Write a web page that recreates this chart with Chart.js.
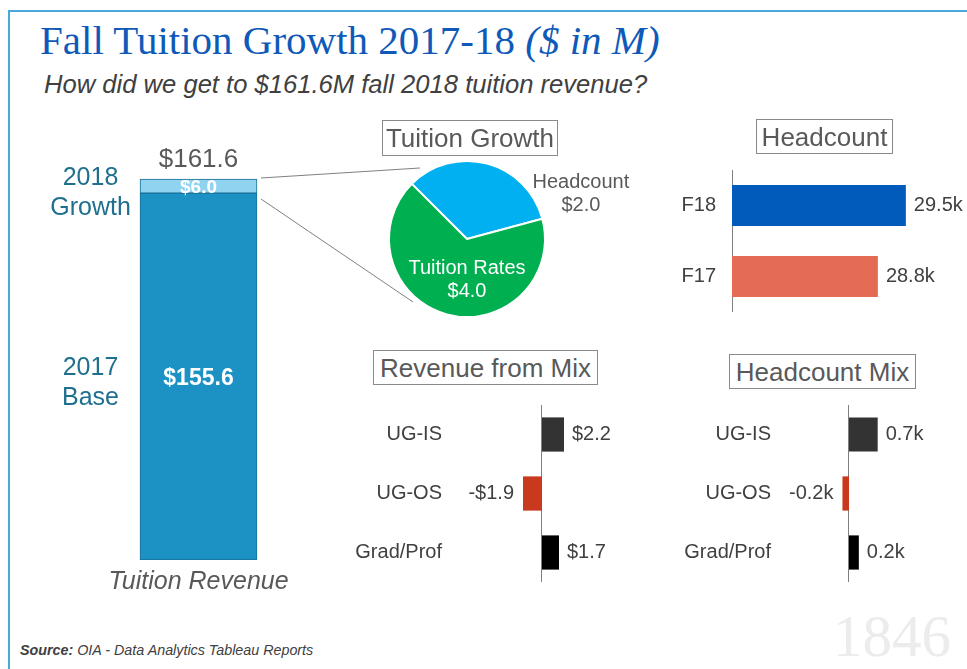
<!DOCTYPE html>
<html>
<head>
<meta charset="utf-8">
<title>Fall Tuition Growth 2017-18</title>
<script src="https://cdn.jsdelivr.net/npm/chart.js"></script>
<style>
  body { margin: 0; background: #fff; font-family: 'Liberation Sans', Arial, sans-serif; }
  #slide { position: relative; width: 967px; height: 669px; overflow: hidden; background: #fff; }
  .abs { position: absolute; }
  .box { position: absolute; box-sizing: border-box; border: 1px solid #8a8a8a; color: #595959;
         font-size: 26px; line-height: 1; display: flex; align-items: center; justify-content: center; }
  canvas { position: absolute; }
</style>
</head>
<body>
<div id="slide">
  <!-- slide frame + watermark -->
  <div class="abs" style="left:8px;top:10px;right:-4px;bottom:-4px;border-top:2px solid #4aa8d8;border-left:2px solid #4aa8d8;"></div>
  <div class="abs" style="left:833px;top:607px;font-family:'Liberation Serif',serif;font-size:59px;line-height:1;color:#ececec;">1846</div>

  <div class="abs" style="left:40px;top:20px;font-family:'Liberation Serif',serif;font-size:41px;line-height:1;color:#0f5ab9;white-space:nowrap;">Fall Tuition Growth 2017-18 <i>($ in M)</i></div>
  <div class="abs" style="left:44px;top:72px;font-size:25.6px;line-height:1;font-style:italic;color:#404040;white-space:nowrap;">How did we get to $161.6M fall 2018 tuition revenue?</div>
  <div class="abs" style="left:20px;top:643px;font-size:14.3px;line-height:1;font-style:italic;color:#404040;white-space:nowrap;"><b>Source:</b> OIA - Data Analytics Tableau Reports</div>

  <!-- connector from the growth segment to the pie -->
  <svg class="abs" style="left:0;top:0" width="967" height="669">
    <line x1="261" y1="178" x2="420" y2="168" stroke="#808080" stroke-width="1"/>
    <line x1="261" y1="199" x2="413" y2="302" stroke="#808080" stroke-width="1"/>
  </svg>

  <canvas id="revenueChart" width="320" height="470" style="left:20px;top:130px;"></canvas>
  <canvas id="growthChart" width="300" height="200" style="left:367px;top:139px;"></canvas>
  <canvas id="headcountChart" width="327" height="142" style="left:640px;top:170px;"></canvas>
  <canvas id="revMixChart" width="300" height="177" style="left:340px;top:405px;"></canvas>
  <canvas id="hcMixChart" width="327" height="177" style="left:640px;top:405px;"></canvas>

  <div class="box" style="left:382px;top:120px;width:176px;height:36px;">Tuition Growth</div>
  <div class="box" style="left:756px;top:119px;width:137px;height:35px;">Headcount</div>
  <div class="box" style="left:373px;top:350px;width:225px;height:35px;">Revenue from Mix</div>
  <div class="box" style="left:729px;top:354px;width:187px;height:35px;">Headcount Mix</div>
</div>

<script>
// Tuition revenue stack ($M)
const revenueParts = ['2017 Base', '2018 Growth'];
const revenueSideLabels = [['2017', 'Base'], ['2018', 'Growth']];
const revenueValues = [155.6, 6.0];
const revenueColors = ['#1b91c4', '#8fd3f1'];

// Tuition growth split ($M)
const growthLabels = ['Headcount', 'Tuition Rates'];
const growthValues = [2.0, 4.0];
const growthColors = ['#00b0f0', '#00b050'];

// Headcount (thousands)
const headcountLabels = ['F18', 'F17'];
const headcountValues = [29.5, 28.8];
const headcountColors = ['#005bbb', '#e46c55'];

// Mix (revenue $M, headcount k)
const mixLabels = ['UG-IS', 'UG-OS', 'Grad/Prof'];
const revMixValues = [2.2, -1.9, 1.7];
const hcMixValues = [0.7, -0.16, 0.24];
const mixColors = ['#333333', '#c9391d', '#000000'];

const FONT = "'Liberation Sans', Arial, sans-serif";
Chart.defaults.font.family = FONT;
Chart.defaults.animation = false;
Chart.defaults.responsive = false;
Chart.defaults.plugins.legend.display = false;
Chart.defaults.plugins.tooltip.enabled = false;

// labels for the stacked revenue bar
const revenueLabelPlugin = {
    id: 'revenueLabels',
    afterDatasetsDraw(chart) {
        const ctx = chart.ctx;
        let topY = Infinity;
        let bottomY = 0;
        let cx = 0;
        ctx.save();
        ctx.textAlign = 'center';
        ctx.textBaseline = 'middle';
        chart.data.datasets.forEach((ds, i) => {
            const bar = chart.getDatasetMeta(i).data[0];
            const mid = (bar.y + bar.base) / 2;
            ctx.fillStyle = '#ffffff';
            ctx.font = (i === 0 ? 'bold 23px ' : 'bold 19px ') + FONT;
            ctx.fillText('$' + ds.data[0].toFixed(1), bar.x, mid + 2);
            ctx.fillStyle = '#1f6f8f';
            ctx.font = '25px ' + FONT;
            ctx.fillText(revenueSideLabels[i][0], bar.x - 108, mid - 8);
            ctx.fillText(revenueSideLabels[i][1], bar.x - 108, mid + 22);
            topY = Math.min(topY, bar.y);
            bottomY = Math.max(bottomY, bar.base);
            cx = bar.x;
        });
        const total = revenueValues.reduce((a, b) => a + b, 0);
        ctx.fillStyle = '#595959';
        ctx.font = '26px ' + FONT;
        ctx.fillText('$' + total.toFixed(1), cx, topY - 19);
        ctx.font = 'italic 25px ' + FONT;
        ctx.fillText('Tuition Revenue', cx, bottomY + 22);
        ctx.restore();
    },
};

new Chart(document.getElementById('revenueChart'), {
    type: 'bar',
    data: {
        labels: ['Tuition Revenue'],
        datasets: revenueParts.map((p, i) => ({
            label: p,
            data: [revenueValues[i]],
            backgroundColor: revenueColors[i],
            borderColor: '#1a6f96',
            borderWidth: 1,
            borderSkipped: false,
            barThickness: 117,
        })),
    },
    options: {
        layout: { padding: { top: 20, bottom: 40, left: 37, right: 0 } },
        scales: {
            x: { stacked: true, display: false },
            y: { stacked: true, display: false, min: 0, max: 173.9 },
        },
    },
    plugins: [revenueLabelPlugin],
});

// pie labels: headcount outside, tuition rates inside
const growthLabelPlugin = {
    id: 'growthLabels',
    afterDatasetsDraw(chart) {
        const ctx = chart.ctx;
        const arcs = chart.getDatasetMeta(0).data;
        const a0 = arcs[0];
        const a1 = arcs[1];
        const r = a0.outerRadius;
        ctx.save();
        ctx.textAlign = 'center';
        ctx.textBaseline = 'middle';
        ctx.font = '20px ' + FONT;
        ctx.fillStyle = '#595959';
        ctx.fillText(growthLabels[0], a0.x + r * 1.46, a0.y - r * 0.72);
        ctx.fillText('$' + growthValues[0].toFixed(1), a0.x + r * 1.46, a0.y - r * 0.43);
        ctx.fillStyle = '#ffffff';
        ctx.fillText(growthLabels[1], a1.x, a1.y + r * 0.38);
        ctx.fillText('$' + growthValues[1].toFixed(1), a1.x, a1.y + r * 0.675);
        ctx.restore();
    },
};

new Chart(document.getElementById('growthChart'), {
    type: 'pie',
    data: {
        labels: growthLabels,
        datasets: [{
            data: growthValues,
            backgroundColor: growthColors,
            borderColor: '#ffffff',
            borderWidth: 2,
        }],
    },
    options: {
        rotation: -45,
        layout: { padding: { left: 21, right: 121, top: 21, bottom: 21 } },
    },
    plugins: [growthLabelPlugin],
});

// value labels at the end of horizontal bars
function barValuePlugin(fmt) {
    return {
        id: 'barValues',
        afterDatasetsDraw(chart) {
            const ctx = chart.ctx;
            const values = chart.data.datasets[0].data;
            ctx.save();
            ctx.font = '20px ' + FONT;
            ctx.fillStyle = '#404040';
            ctx.textBaseline = 'middle';
            chart.getDatasetMeta(0).data.forEach((bar, i) => {
                if (values[i] < 0) {
                    ctx.textAlign = 'right';
                    ctx.fillText(fmt(values[i]), bar.x - 9, bar.y);
                } else {
                    ctx.textAlign = 'left';
                    ctx.fillText(fmt(values[i]), bar.x + 8, bar.y);
                }
            });
            ctx.restore();
        },
    };
}

const zeroLinePlugin = {
    id: 'zeroLine',
    beforeDatasetsDraw(chart) {
        const ctx = chart.ctx;
        const x = Math.round(chart.scales.x.getPixelForValue(0)) - 0.5;
        ctx.save();
        ctx.strokeStyle = '#808080';
        ctx.lineWidth = 1;
        ctx.beginPath();
        ctx.moveTo(x, chart.chartArea.top);
        ctx.lineTo(x, chart.chartArea.bottom);
        ctx.stroke();
        ctx.restore();
    },
};

// fixed-width category axis that does not pad the chart area vertically
function fixedAxis(width) {
    return (scale) => {
        scale.width = width;
        scale.paddingTop = 0;
        scale.paddingBottom = 0;
    };
}

new Chart(document.getElementById('headcountChart'), {
    type: 'bar',
    data: {
        labels: headcountLabels,
        datasets: [{
            data: headcountValues,
            backgroundColor: headcountColors,
            barPercentage: 0.58,
            categoryPercentage: 1,
        }],
    },
    options: {
        indexAxis: 'y',
        scales: {
            x: { display: false, min: 25.15, max: 31.03 },
            y: {
                afterFit: fixedAxis(92),
                grid: { display: false, drawTicks: false },
                border: { display: true, color: '#808080' },
                ticks: { color: '#404040', font: { size: 20 }, padding: 16 },
            },
        },
    },
    plugins: [barValuePlugin((v) => v.toFixed(1) + 'k')],
});

function makeMixChart(id, values, axisWidth, min, max, fmt) {
    return new Chart(document.getElementById(id), {
        type: 'bar',
        data: {
            labels: mixLabels,
            datasets: [{
                data: values,
                backgroundColor: mixColors,
                barPercentage: 0.58,
                categoryPercentage: 1,
            }],
        },
        options: {
            indexAxis: 'y',
            scales: {
                x: { display: false, min: min, max: max },
                y: {
                    afterFit: fixedAxis(axisWidth),
                    grid: { display: false, drawTicks: false },
                    border: { display: false },
                    ticks: { color: '#404040', font: { size: 20 }, padding: 10 },
                },
            },
        },
        plugins: [zeroLinePlugin, barValuePlugin(fmt)],
    });
}

makeMixChart('revMixChart', revMixValues, 112, -9, 9.8,
    (v) => (v < 0 ? '-$' : '$') + Math.abs(v).toFixed(1));
makeMixChart('hcMixChart', hcMixValues, 141, -1.66, 2.88,
    (v) => (v < 0 ? '-' : '') + Math.abs(v).toFixed(1) + 'k');
</script>
</body>
</html>
